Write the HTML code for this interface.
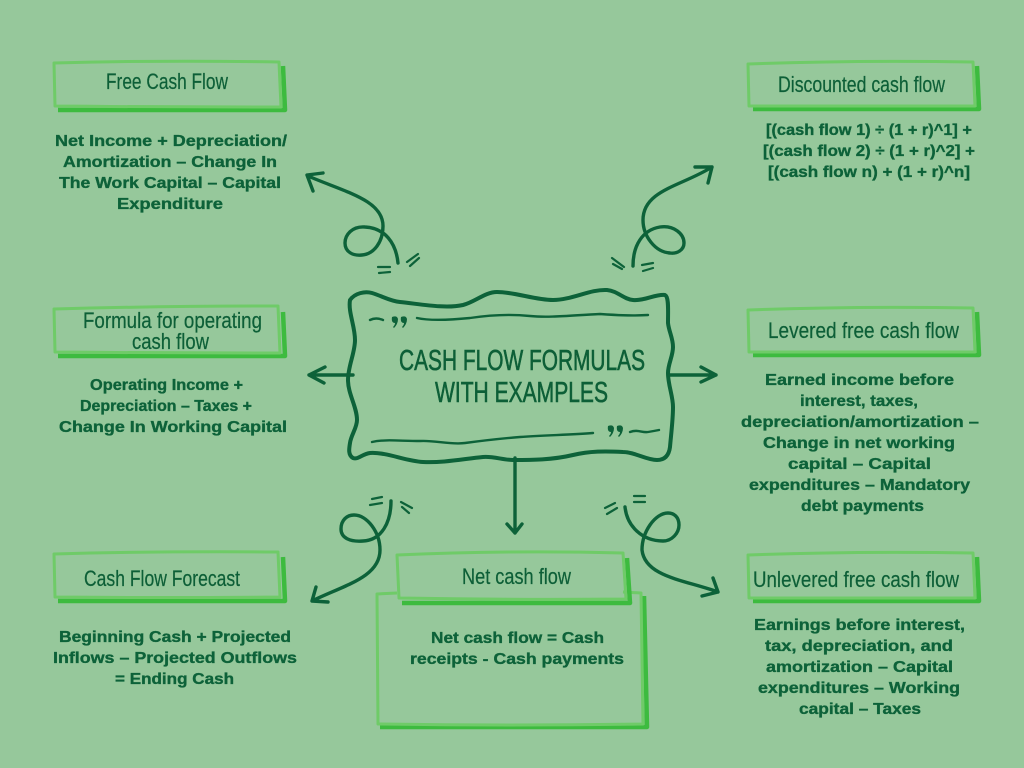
<!DOCTYPE html>
<html lang="en">
<head>
<meta charset="utf-8">
<title>Cash Flow Formulas With Examples</title>
<style>
html,body{margin:0;padding:0;background:#96c89b;width:1024px;height:768px;overflow:hidden}
svg{display:block}
.t{font-family:"Liberation Sans Narrow","Liberation Sans",sans-serif;font-size:22.5px;fill:#0d5f37;stroke:#0d5f37;stroke-width:.2;font-weight:400}
.b{font-family:"Liberation Sans",sans-serif;font-size:15.5px;font-weight:700;fill:#0d6239;stroke:#0d6239;stroke-width:.35}
.h{font-family:"Liberation Sans Narrow","Liberation Sans",sans-serif;font-size:29px;fill:#0d5f37;stroke:#0d5f37;stroke-width:.6;font-weight:400}
.a{fill:none;stroke:#0d6239;stroke-width:3.4;stroke-linecap:round;stroke-linejoin:round}
.k{fill:none;stroke:#0d6239;stroke-width:2.2;stroke-linecap:round}
.l{fill:none;stroke:#6fcb68;stroke-width:3;stroke-linejoin:round}
.s{fill:none;stroke:#3dbb3f;stroke-width:4.5;stroke-linejoin:round}
</style>
</head>
<body>
<svg xmlns="http://www.w3.org/2000/svg" width="1024" height="768" viewBox="0 0 1024 768">
<rect width="1024" height="768" fill="#96c89b"/>

<!-- Boxes -->
<path class="s" d="M283 66 L285 110 L58 110"/>
<path class="l" d="M54 63 Q160 60 279 62 L281 107 Q160 107 55 106 Z"/>
<path class="s" d="M977 66 L979 109 L753 109"/>
<path class="l" d="M748 64 Q860 60 973 62 L975 106 Q860 106 749 106 Z"/>
<path class="s" d="M283 312 L285 356 L58 356"/>
<path class="l" d="M54 309 Q160 306 278 306 L280 353 Q160 353 55 352 Z"/>
<path class="s" d="M977 312 L979 355 L753 355"/>
<path class="l" d="M748 310 Q860 306 973 308 L975 352 Q860 352 749 352 Z"/>
<path class="s" d="M283 557 L285 601 L58 601"/>
<path class="l" d="M54 554 Q160 551 278 552 L280 597 Q160 598 55 597 Z"/>
<path class="s" d="M977 557 L979 601 L753 601"/>
<path class="l" d="M748 555 Q860 551 973 553 L975 598 Q860 598 749 598 Z"/>

<!-- Net cash flow body box -->
<path class="s" d="M644 596 L647 727 L380 727"/>
<path class="l" d="M397 593 L377 594 L378 724 Q510 726 643 724 L641 593 L623 592"/>
<!-- Net cash flow header -->
<path class="s" d="M627 558 L630 603 L402 603"/>
<path class="l" d="M397 555 Q510 550 623 553 L626 599 Q510 600 399 598 Z"/>

<!-- Central frame -->
<path fill="none" stroke="#0d6239" stroke-width="4" stroke-linejoin="round" d="M350 300 C355 293 365 291 372 293 C382 296 390 301 400 302 C420 304 445 309 463 305 C475 302 485 292 497 292 C515 292 535 300 553 300 C572 300 590 289 607 290 C618 291 623 299 633 300 C645 301 655 294 665 295 C669 297 668 310 668 323 C669 332 673 338 673 347 C673 356 668 364 668 373 C668 385 673 396 673 407 C673 420 671 435 670 447 C669 455 665 460 657 460 C646 460 635 452 623 452 C605 451 590 451 573 455 C552 460 532 460 513 460 C503 460 493 456 483 457 C463 459 443 463 423 462 C405 461 387 452 370 453 C362 454 358 460 353 458 C348 455 349 449 350 443 C351 435 357 428 357 420 C357 407 348 394 348 380 C348 366 355 353 355 340 C355 326 348 312 350 300 Z"/>
<path fill="none" stroke="#0d6239" stroke-width="2.4" stroke-linecap="round" d="M370 320 Q376 317 383 320"/>
<path fill="none" stroke="#0d6239" stroke-width="2.4" stroke-linecap="round" d="M417 318 C430 321 450 320 470 318 C490 315 510 314 530 316 C550 318 575 315 600 314 C615 315 630 316 648 315"/>
<path fill="none" stroke="#0d6239" stroke-width="2.4" stroke-linecap="round" d="M372 442 C385 439 400 441 420 441 C435 440 450 445 465 443 C480 441 495 439 520 437 C545 435 570 435 593 433"/>
<path fill="none" stroke="#0d6239" stroke-width="2.4" stroke-linecap="round" d="M630 432 C638 429 642 433 648 432 Q654 431 659 430"/>
<path fill="#0d6239" d="M392 317 q5 -2 6 2 q0 5 -4 9 l-1 -1 q2 -2 2 -4 q-4 0 -3 -6 Z M401 317 q5 -2 6 2 q0 5 -4 9 l-1 -1 q2 -2 2 -4 q-4 0 -3 -6 Z"/>
<path fill="#0d6239" d="M608 426 q5 -2 6 2 q0 5 -4 9 l-1 -1 q2 -2 2 -4 q-4 0 -3 -6 Z M617 426 q5 -2 6 2 q0 5 -4 9 l-1 -1 q2 -2 2 -4 q-4 0 -3 -6 Z"/>

<!-- Straight arrows -->
<path class="a" d="M353 375 L309 375 M325 367 L309 375 L324 383"/>
<path class="a" d="M669 375 L716 375 M701 367 L716 375 L701 382"/>
<path class="a" d="M515 458 L515 533 M507 524 L515 533 L522 524"/>

<!-- Curly arrows -->
<path class="a" d="M398 263 C396 243 385 228 365 227 C352 226 345 235 345 243 C345 252 353 256 362 255 C374 254 383 242 383 226 C383 200 345 192 308 176 M323 173 L307 175 L313 191"/>
<path class="a" d="M633 266 C633 246 642 230 660 227 C674 225 684 234 684 243 C684 250 677 254 670 253 C655 252 643 236 643 220 C643 190 682 186 712 167 M695 167 L712 167 L708 183"/>
<path class="a" d="M391 501 C391 522 382 540 363 541 C350 542 341 538 341 529 C341 520 347 515 354 515 C367 515 380 532 380 550 C380 577 345 585 312 601 M328 602 L312 601 L316 587"/>
<path class="a" d="M625 507 C627 526 642 541 663 541 C672 541 679 533 679 525 C679 517 674 513 668 513 C655 513 642 532 642 550 C645 577 685 580 718 592 M702 596 L718 592 L713 578"/>

<!-- Ticks -->
<path class="k" d="M378 267 L390 267 M379 273 L390 272 M407 262 L418 254 M410 266 L419 258"/>
<path class="k" d="M612 258 L624 267 M613 264 L622 269 M642 265 L653 263 M643 271 L653 268"/>
<path class="k" d="M372 499 L382 497 M370 505 L382 503 M401 502 L412 508 M402 507 L409 513"/>
<path class="k" d="M605 508 L615 503 M607 514 L617 508 M634 496 L645 496 M634 502 L645 502"/>

<!-- Headline -->
<text class="h" x="399" y="370" textLength="246" lengthAdjust="spacingAndGlyphs">CASH FLOW FORMULAS</text>
<text class="h" x="435" y="402" textLength="173" lengthAdjust="spacingAndGlyphs">WITH EXAMPLES</text>

<!-- Titles -->
<text class="t" x="106" y="89" textLength="122" lengthAdjust="spacingAndGlyphs">Free Cash Flow</text>
<text class="t" x="778" y="92" textLength="167" lengthAdjust="spacingAndGlyphs">Discounted cash flow</text>
<text class="t" x="83" y="328" textLength="179" lengthAdjust="spacingAndGlyphs">Formula for operating</text>
<text class="t" x="132" y="349" textLength="77" lengthAdjust="spacingAndGlyphs">cash flow</text>
<text class="t" x="768" y="338" textLength="191" lengthAdjust="spacingAndGlyphs">Levered free cash flow</text>
<text class="t" x="84" y="586" textLength="156" lengthAdjust="spacingAndGlyphs">Cash Flow Forecast</text>
<text class="t" x="462" y="584" textLength="109" lengthAdjust="spacingAndGlyphs">Net cash flow</text>
<text class="t" x="753" y="587" textLength="206" lengthAdjust="spacingAndGlyphs">Unlevered free cash flow</text>

<!-- Free Cash Flow body -->
<text class="b" x="55" y="146" textLength="232" lengthAdjust="spacingAndGlyphs">Net Income + Depreciation/</text>
<text class="b" x="63" y="167" textLength="214" lengthAdjust="spacingAndGlyphs">Amortization – Change In</text>
<text class="b" x="59" y="188" textLength="222" lengthAdjust="spacingAndGlyphs">The Work Capital – Capital</text>
<text class="b" x="117" y="209" textLength="106" lengthAdjust="spacingAndGlyphs">Expenditure</text>

<!-- Discounted body -->
<text class="b" x="766" y="135" textLength="206" lengthAdjust="spacingAndGlyphs">[(cash flow 1) ÷ (1 + r)^1] +</text>
<text class="b" x="763" y="156" textLength="212" lengthAdjust="spacingAndGlyphs">[(cash flow 2) ÷ (1 + r)^2] +</text>
<text class="b" x="768" y="177" textLength="202" lengthAdjust="spacingAndGlyphs">[(cash flow n) + (1 + r)^n]</text>

<!-- Operating body -->
<text class="b" x="90" y="390" textLength="153" lengthAdjust="spacingAndGlyphs">Operating Income +</text>
<text class="b" x="80" y="411" textLength="172" lengthAdjust="spacingAndGlyphs">Depreciation – Taxes +</text>
<text class="b" x="59" y="432" textLength="228" lengthAdjust="spacingAndGlyphs">Change In Working Capital</text>

<!-- Levered body -->
<text class="b" x="765" y="385" textLength="189" lengthAdjust="spacingAndGlyphs">Earned income before</text>
<text class="b" x="800" y="406" textLength="118" lengthAdjust="spacingAndGlyphs">interest, taxes,</text>
<text class="b" x="741" y="427" textLength="238" lengthAdjust="spacingAndGlyphs">depreciation/amortization –</text>
<text class="b" x="763" y="448" textLength="192" lengthAdjust="spacingAndGlyphs">Change in net working</text>
<text class="b" x="788" y="469" textLength="143" lengthAdjust="spacingAndGlyphs">capital – Capital</text>
<text class="b" x="749" y="490" textLength="221" lengthAdjust="spacingAndGlyphs">expenditures – Mandatory</text>
<text class="b" x="801" y="511" textLength="123" lengthAdjust="spacingAndGlyphs">debt payments</text>

<!-- Forecast body -->
<text class="b" x="59" y="642" textLength="232" lengthAdjust="spacingAndGlyphs">Beginning Cash + Projected</text>
<text class="b" x="53" y="663" textLength="244" lengthAdjust="spacingAndGlyphs">Inflows – Projected Outflows</text>
<text class="b" x="115" y="684" textLength="119" lengthAdjust="spacingAndGlyphs">= Ending Cash</text>

<!-- Net body -->
<text class="b" x="431" y="643" textLength="173" lengthAdjust="spacingAndGlyphs">Net cash flow = Cash</text>
<text class="b" x="410" y="664" textLength="214" lengthAdjust="spacingAndGlyphs">receipts - Cash payments</text>

<!-- Unlevered body -->
<text class="b" x="754" y="630" textLength="211" lengthAdjust="spacingAndGlyphs">Earnings before interest,</text>
<text class="b" x="765" y="651" textLength="188" lengthAdjust="spacingAndGlyphs">tax, depreciation, and</text>
<text class="b" x="766" y="672" textLength="187" lengthAdjust="spacingAndGlyphs">amortization – Capital</text>
<text class="b" x="758" y="693" textLength="202" lengthAdjust="spacingAndGlyphs">expenditures – Working</text>
<text class="b" x="799" y="714" textLength="122" lengthAdjust="spacingAndGlyphs">capital – Taxes</text>
</svg>
</body>
</html>
